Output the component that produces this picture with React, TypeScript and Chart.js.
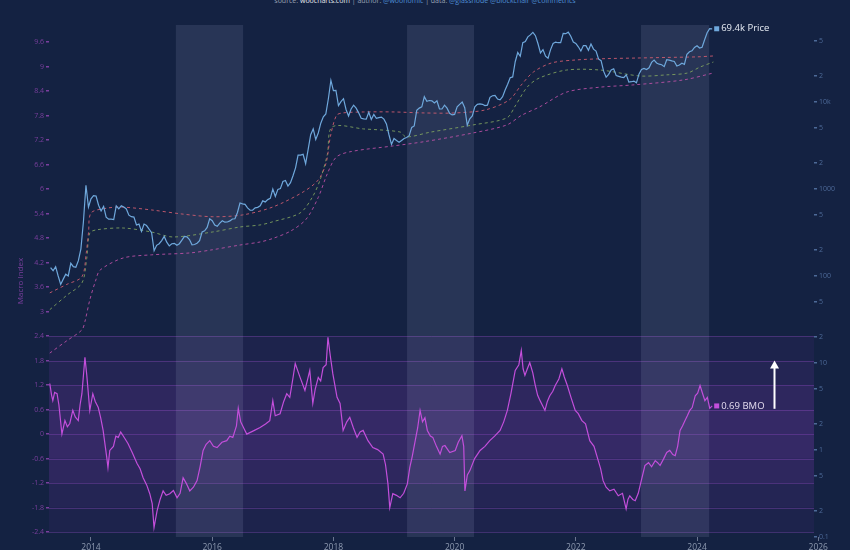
import { useEffect, useRef } from "react";
import { Chart, registerables } from "chart.js";

Chart.register(...registerables);

// ---------- DATA ----------
// Price samples: twice a month starting 1 May 2013
const PRICE_START_YEAR = 2013 + 4 / 12;
const PRICE_STEP_YEARS = 1 / 24;
const priceUsd = [
  // 2013 May..Dec
  125, 115, 128, 100, 80, 92, 105, 100, 140, 128, 126, 150, 205, 420, 1100, 620,
  // 2014
  770, 840, 830, 650, 560, 630, 475, 450, 450, 445, 640, 590, 640, 620, 590, 500, 480, 475, 385, 395, 325, 395, 380, 345,
  // 2015
  315, 195, 225, 235, 255, 285, 245, 222, 235, 237, 225, 235, 258, 285, 282, 262, 228, 230, 238, 255, 320, 330, 362, 455,
  // 2016
  432, 385, 372, 405, 432, 415, 417, 430, 452, 455, 537, 690, 675, 665, 607, 570, 572, 607, 615, 640, 730, 710, 755, 780,
  // 2017
  1000, 820, 990, 1010, 1220, 1250, 1080, 1180, 1420, 1750, 2450, 2450, 2500, 1950, 2850, 4200, 4900, 3700, 4400, 5700, 6750, 7300, 10900, 17700,
  // 2018
  13500, 13600, 9100, 10100, 10900, 8200, 6900, 8300, 9200, 8500, 7500, 6500, 6400, 6350, 7600, 6300, 7200, 6500, 6600, 6700, 6350, 5600, 4200, 3250,
  // 2019
  3800, 3600, 3450, 3600, 3800, 3900, 4100, 5100, 5300, 8000, 8500, 8800, 11500, 10200, 10400, 10300, 9750, 10300, 8300, 8300, 9200, 8500, 7400, 7100,
  // 2020
  7200, 8800, 9400, 10000, 8600, 5400, 6400, 6900, 8800, 9400, 9500, 9400, 9100, 9200, 11300, 11800, 11900, 10800, 10600, 11500, 13700, 16000, 19000, 19400,
  // 2021
  29000, 37000, 33500, 48000, 49500, 56000, 59000, 63000, 57800, 47000, 36700, 40000, 33600, 31800, 40000, 47000, 48800, 48000, 48000, 61500, 61000, 63500, 57000, 48900,
  // 2022
  47000, 43100, 38500, 44500, 44400, 39300, 46300, 40500, 38500, 31300, 29800, 22600, 19300, 20800, 23300, 24100, 20100, 19700, 19300, 19100, 20500, 16900, 17100, 17400,
  // 2023
  16600, 20900, 23700, 24300, 23600, 24700, 28500, 30300, 28100, 27200, 26800, 25500, 30600, 30300, 29700, 29200, 25900, 26600, 27900, 27100, 35400, 37800, 38700, 42300,
  // 2024 Jan..Apr
  44200, 41700, 42600, 52000, 62400, 69500, 69400,
];

const bmoYears = [
  2013.32, 2013.35, 2013.37, 2013.4, 2013.44, 2013.47, 2013.52, 2013.57, 2013.61, 2013.65, 2013.7, 2013.74, 2013.79, 2013.82, 2013.85, 2013.9, 2013.93, 2013.98,
  2014.03, 2014.07, 2014.12, 2014.16, 2014.2, 2014.26, 2014.28, 2014.31, 2014.37, 2014.41, 2014.45, 2014.49, 2014.53, 2014.61, 2014.68, 2014.76, 2014.81, 2014.86, 2014.92, 2014.97,
  2015.01, 2015.04, 2015.09, 2015.14, 2015.19, 2015.24, 2015.3, 2015.36, 2015.42, 2015.47, 2015.52, 2015.57, 2015.63, 2015.69, 2015.75, 2015.8, 2015.85, 2015.9, 2015.96,
  2016.02, 2016.08, 2016.16, 2016.24, 2016.29, 2016.34, 2016.4, 2016.43, 2016.47, 2016.52, 2016.57, 2016.68, 2016.79, 2016.88, 2016.95,
  2017.0, 2017.04, 2017.12, 2017.18, 2017.23, 2017.28, 2017.33, 2017.37, 2017.45, 2017.53, 2017.61, 2017.66, 2017.7, 2017.75, 2017.79, 2017.83, 2017.88, 2017.91, 2017.95, 2017.99,
  2018.06, 2018.11, 2018.16, 2018.22, 2018.27, 2018.33, 2018.39, 2018.44, 2018.49, 2018.57, 2018.65, 2018.73, 2018.82, 2018.86, 2018.9, 2018.93, 2018.98,
  2019.04, 2019.1, 2019.16, 2019.22, 2019.26, 2019.3, 2019.35, 2019.39, 2019.43, 2019.47, 2019.51, 2019.55, 2019.6, 2019.64, 2019.7, 2019.76, 2019.8, 2019.84, 2019.92,
  2020.01, 2020.06, 2020.12, 2020.15, 2020.17, 2020.21, 2020.25, 2020.33, 2020.42, 2020.5, 2020.58, 2020.66, 2020.75, 2020.81, 2020.87, 2020.93,
  2021.0, 2021.06, 2021.1, 2021.13, 2021.16, 2021.2, 2021.24, 2021.29, 2021.33, 2021.37, 2021.41, 2021.45, 2021.49, 2021.53, 2021.57, 2021.62, 2021.66, 2021.72, 2021.77, 2021.81, 2021.86, 2021.92, 2021.99,
  2022.04, 2022.1, 2022.16, 2022.23, 2022.3, 2022.37, 2022.41, 2022.45, 2022.5, 2022.56, 2022.63, 2022.7, 2022.77, 2022.83, 2022.86, 2022.89, 2022.94, 2022.98,
  2023.03, 2023.08, 2023.14, 2023.2, 2023.25, 2023.31, 2023.35, 2023.39, 2023.45, 2023.5, 2023.55, 2023.6, 2023.64, 2023.68, 2023.72, 2023.76, 2023.8, 2023.84, 2023.88, 2023.92, 2023.97,
  2024.01, 2024.05, 2024.09, 2024.13, 2024.17, 2024.21, 2024.25,
];
const bmoValues = [
  1.24, 0.95, 0.82, 1.02, 0.99, 0.72, 0.0, 0.33, 0.18, 0.26, 0.58, 0.42, 0.33, 0.72, 0.99, 1.88, 1.45, 0.58,
  0.99, 0.8, 0.65, 0.4, 0.09, -0.57, -0.82, -0.4, -0.3, -0.05, -0.08, 0.05, -0.04, -0.23, -0.45, -0.72, -0.85, -1.07, -1.25, -1.46,
  -1.7, -2.29, -1.88, -1.6, -1.39, -1.5, -1.46, -1.38, -1.56, -1.45, -1.07, -1.2, -1.39, -1.3, -1.14, -0.8, -0.4, -0.25, -0.16,
  -0.3, -0.33, -0.2, -0.16, -0.05, -0.08, 0.2, 0.63, 0.3, 0.15, 0.0, 0.08, 0.16, 0.25, 0.33,
  0.82, 0.45, 0.5, 0.8, 0.99, 0.9, 1.35, 1.73, 1.39, 1.07, 1.56, 0.75, 1.1, 1.39, 1.3, 1.63, 1.7, 2.37, 1.9, 1.48,
  0.9, 0.75, 0.09, 0.3, 0.41, 0.15, -0.08, 0.05, 0.09, -0.16, -0.33, -0.38, -0.49, -0.75, -1.22, -1.8, -1.46,
  -1.5, -1.56, -1.45, -1.22, -0.82, -0.55, -0.16, 0.15, 0.58, 0.3, 0.4, 0.09, -0.05, -0.08, -0.3, -0.49, -0.3, -0.28, -0.45,
  -0.4, -0.2, -0.04, -0.3, -1.39, -1.0, -0.9, -0.6, -0.4, -0.3, -0.16, -0.05, 0.09, 0.3, 0.58, 1.0,
  1.56, 1.7, 2.05, 1.6, 1.44, 1.6, 1.75, 1.5, 1.2, 0.95, 0.82, 0.7, 0.58, 0.8, 0.94, 1.05, 1.19, 1.35, 1.6, 1.4, 1.19, 0.9, 0.58,
  0.5, 0.33, 0.25, -0.16, -0.3, -0.65, -0.85, -1.14, -1.3, -1.39, -1.35, -1.51, -1.45, -1.83, -1.6, -1.51, -1.6, -1.63,
  -1.45, -1.14, -0.77, -0.7, -0.8, -0.65, -0.7, -0.77, -0.6, -0.45, -0.4, -0.5, -0.53, -0.3, 0.09, 0.2, 0.33, 0.45, 0.58, 0.65, 0.94,
  1.0, 1.19, 1.0, 0.82, 0.9, 0.63, 0.69,
];

const upperYears = [2013.32, 2013.6, 2013.85, 2013.92, 2013.96, 2014.0, 2014.25, 2014.5, 2015.0, 2015.5, 2016.0, 2016.5, 2017.0, 2017.5, 2017.75, 2017.88, 2017.95, 2018.05, 2018.15, 2018.5, 2019.0, 2019.5, 2020.0, 2020.5, 2020.9, 2021.1, 2021.3, 2021.6, 2022.0, 2022.5, 2023.0, 2023.5, 2024.0, 2024.27];
const upperUsd = [64, 80, 98, 180, 320, 530, 600, 620, 574, 516, 480, 503, 621, 924, 1270, 2000, 4000, 7000, 7480, 7680, 7680, 7480, 7480, 8090, 10540, 15680, 22100, 28100, 30400, 31500, 32000, 32500, 33000, 33800];

const midYears = [2013.32, 2013.6, 2013.85, 2013.93, 2013.98, 2014.1, 2014.53, 2015.0, 2015.35, 2016.0, 2016.46, 2016.79, 2017.0, 2017.45, 2017.65, 2017.78, 2017.9, 2017.98, 2018.5, 2019.1, 2019.2, 2019.6, 2020.3, 2020.86, 2021.0, 2021.2, 2021.4, 2021.85, 2022.4, 2023.06, 2023.5, 2023.84, 2024.05, 2024.27];
const midUsd = [41, 60, 83, 160, 312, 340, 356, 320, 281, 320, 366, 386, 420, 530, 800, 1270, 2500, 5160, 4900, 4520, 3960, 4500, 5440, 6550, 9000, 14900, 18900, 23300, 23300, 19900, 20500, 21500, 25200, 28800];

const lowerYears = [2013.32, 2013.6, 2013.85, 2013.9, 2013.98, 2014.08, 2014.15, 2014.53, 2015.0, 2015.63, 2016.0, 2016.46, 2016.79, 2017.0, 2017.3, 2017.55, 2017.75, 2017.9, 2018.05, 2018.3, 2018.98, 2019.5, 2020.3, 2020.86, 2021.1, 2021.4, 2021.85, 2022.4, 2022.94, 2023.77, 2024.27];
const lowerUsd = [13, 18, 24, 30, 53, 90, 117, 161, 175, 184, 200, 227, 246, 270, 330, 450, 800, 1500, 2335, 2700, 3120, 3500, 4400, 5440, 7000, 8770, 13000, 14800, 15700, 17900, 21550];

const macroTicks = [-2.4, -1.8, -1.2, -0.6, 0, 0.6, 1.2, 1.8, 2.4, 3, 3.6, 4.2, 4.8, 5.4, 6, 6.6, 7.2, 7.8, 8.4, 9, 9.6];
const priceTicks = [0.1, 0.2, 0.5, 1, 2, 5, 10, 20, 50, 100, 200, 500, 1000, 2000, 5000, 10000, 20000, 50000];
const yearTicks = [2014, 2016, 2018, 2020, 2022, 2024, 2026];
const bandEdges = [2.4, 1.8, 1.2, 0.6, 0, -0.6, -1.2, -1.8, -2.4];
const bandAlphas = [0.07, 0.13, 0.2, 0.26, 0.26, 0.2, 0.13, 0.07];
const shadedStarts = [2015.4, 2019.215, 2023.076];
const shadedEnds = [2016.51, 2020.32, 2024.2];
const arrowYear = 2025.27;
const arrowFrom = 0.62;
const arrowTo = 1.8;

// ---------- STYLE ----------
const BG = "#142242";
const PRICE_COLOR = "#6fa8dc";
const BMO_COLOR = "#c34fdb";
const MACRO_COLOR = "#7b3f9e";
const RIGHT_COLOR = "#4d6a98";
const FONT = "'Open Sans', 'Noto Sans', sans-serif";

const decorPlugin = {
  id: "decor",
  beforeDatasetsDraw(chart: any) {
    const { ctx, chartArea, scales } = chart;
    const { left, right, top, bottom } = chartArea;
    const yL = scales.yL;
    const x = scales.x;
    ctx.save();
    for (let i = 0; i < bandAlphas.length; i++) {
      const y1 = yL.getPixelForValue(bandEdges[i]);
      const y2 = yL.getPixelForValue(bandEdges[i + 1]);
      ctx.fillStyle = `rgba(150, 60, 210, ${bandAlphas[i]})`;
      ctx.fillRect(left, y1, right - left, y2 - y1);
    }
    ctx.strokeStyle = "rgba(165, 85, 215, 0.3)";
    ctx.lineWidth = 1;
    for (const e of bandEdges) {
      const y = Math.round(yL.getPixelForValue(e)) + 0.5;
      ctx.beginPath();
      ctx.moveTo(left, y);
      ctx.lineTo(right, y);
      ctx.stroke();
    }
    ctx.fillStyle = "rgba(190, 200, 228, 0.12)";
    for (let i = 0; i < shadedStarts.length; i++) {
      const x1 = x.getPixelForValue(shadedStarts[i]);
      const x2 = x.getPixelForValue(shadedEnds[i]);
      ctx.fillRect(x1, top, x2 - x1, bottom - top);
    }
    ctx.restore();
  },
  afterDatasetsDraw(chart: any) {
    const { ctx, scales } = chart;
    const { x, yL, yR } = scales;
    ctx.save();
    // arrow
    const ax = Math.round(x.getPixelForValue(arrowYear)) + 0.5;
    const yb = yL.getPixelForValue(arrowFrom);
    const yt = yL.getPixelForValue(arrowTo);
    ctx.strokeStyle = "#ffffff";
    ctx.fillStyle = "#ffffff";
    ctx.lineWidth = 2;
    ctx.beginPath();
    ctx.moveTo(ax, yb);
    ctx.lineTo(ax, yt + 6);
    ctx.stroke();
    ctx.beginPath();
    ctx.moveTo(ax, yt);
    ctx.lineTo(ax - 4.5, yt + 8);
    ctx.lineTo(ax + 4.5, yt + 8);
    ctx.closePath();
    ctx.fill();

    // end labels
    const lastIdx = priceUsd.length - 1;
    const lastYear = PRICE_START_YEAR + lastIdx * PRICE_STEP_YEARS;
    const lastPrice = priceUsd[lastIdx];
    const px = x.getPixelForValue(lastYear);
    const py = yR.getPixelForValue(lastPrice);
    ctx.font = `9.5px ${FONT}`;
    ctx.textBaseline = "middle";
    ctx.textAlign = "left";
    ctx.fillStyle = PRICE_COLOR;
    ctx.fillRect(px + 2, py - 2.5, 5, 5);
    ctx.fillStyle = "#e8edf5";
    ctx.fillText(`${(lastPrice / 1000).toFixed(1)}k Price`, px + 9, py);

    const bi = bmoValues.length - 1;
    const bx = x.getPixelForValue(bmoYears[bi]);
    const by = yL.getPixelForValue(bmoValues[bi]);
    ctx.fillStyle = BMO_COLOR;
    ctx.fillRect(bx + 2, by - 2.5, 5, 5);
    ctx.fillStyle = "#e4dcef";
    ctx.fillText(`${bmoValues[bi].toFixed(2)} BMO`, bx + 9, by);
    ctx.restore();
  },
};

function fmtPrice(v: number): string {
  const lg = Math.log10(v);
  if (Math.abs(lg - Math.round(lg)) < 1e-6) {
    if (v >= 10000) return `${Math.round(v / 1000)}k`;
    return String(Number(v.toPrecision(1)));
  }
  return String(Number((v / Math.pow(10, Math.floor(lg + 1e-9))).toFixed(0)));
}

export default function App() {
  const ref = useRef<HTMLCanvasElement | null>(null);
  useEffect(() => {
    if (!ref.current) return;
    const priceData = priceUsd.map((p, i) => ({ x: PRICE_START_YEAR + i * PRICE_STEP_YEARS, y: p }));
    const bmoData = bmoValues.map((v, i) => ({ x: bmoYears[i], y: v }));
    const upperData = upperUsd.map((v, i) => ({ x: upperYears[i], y: v }));
    const midData = midUsd.map((v, i) => ({ x: midYears[i], y: v }));
    const lowerData = lowerUsd.map((v, i) => ({ x: lowerYears[i], y: v }));
    const dashed = (data: any[], color: string, order: number) => ({
      data,
      yAxisID: "yR",
      borderColor: color,
      borderWidth: 1,
      borderDash: [3, 3],
      pointRadius: 0,
      tension: 0.3,
      order,
    });
    const chart = new Chart(ref.current, {
      type: "line",
      data: {
        datasets: [
          { data: priceData, yAxisID: "yR", borderColor: PRICE_COLOR, borderWidth: 1.2, pointRadius: 0, tension: 0, order: 0 },
          dashed(upperData, "rgba(205, 92, 112, 0.9)", 2),
          dashed(midData, "rgba(125, 160, 95, 0.9)", 3),
          dashed(lowerData, "rgba(185, 80, 165, 0.9)", 4),
          { data: bmoData, yAxisID: "yL", borderColor: BMO_COLOR, borderWidth: 1.2, pointRadius: 0, tension: 0, order: 1 },
        ] as any,
      },
      options: {
        animation: false,
        responsive: false,
        maintainAspectRatio: false,
        parsing: false as any,
        layout: { padding: { top: 25, left: 0, right: 0, bottom: 0 } },
        plugins: { legend: { display: false }, tooltip: { enabled: false } },
        scales: {
          x: {
            type: "linear",
            min: 2013.307,
            max: 2025.93,
            afterBuildTicks: (s: any) => {
              s.ticks = yearTicks.map((v) => ({ value: v }));
            },
            afterFit: (s: any) => {
              s.height = 13;
            },
            ticks: { color: "#8e9ab0", font: { size: 8.5, family: FONT }, padding: 1, maxRotation: 0, autoSkip: false, callback: (v: any) => String(v) },
            grid: { drawOnChartArea: false, drawTicks: true, tickLength: 4, color: "#6b7690" },
            border: { display: false },
          },
          yL: {
            type: "linear",
            position: "left",
            min: -2.52,
            max: 10.02,
            afterBuildTicks: (s: any) => {
              s.ticks = macroTicks.map((v) => ({ value: v }));
            },
            afterFit: (s: any) => {
              s.width = 49;
            },
            ticks: { color: MACRO_COLOR, font: { size: 7, family: FONT }, padding: 2, callback: (v: any) => String(Number(Number(v).toFixed(1))) },
            grid: { drawOnChartArea: false, tickLength: 3, lineWidth: 1.5, color: MACRO_COLOR },
            border: { display: false },
            title: { display: true, text: "Macro Index", color: MACRO_COLOR, font: { size: 8, family: FONT }, padding: { top: 16, bottom: 0 } },
          },
          yR: {
            type: "logarithmic",
            position: "right",
            min: 0.1,
            max: 76700,
            afterBuildTicks: (s: any) => {
              s.ticks = priceTicks.map((v) => ({ value: v }));
            },
            afterFit: (s: any) => {
              s.width = 36;
            },
            ticks: { color: RIGHT_COLOR, font: { size: 7, family: FONT }, padding: 2, autoSkip: false, callback: (v: any) => fmtPrice(Number(v)) },
            grid: { drawOnChartArea: false, tickLength: 3, lineWidth: 1.5, color: RIGHT_COLOR },
            border: { display: false },
          },
        },
      } as any,
      plugins: [decorPlugin],
    });
    return () => chart.destroy();
  }, []);

  return (
    <div style={{ position: "fixed", left: 0, top: 0, width: 850, height: 550, background: BG, overflow: "hidden" }}>
      <div
        style={{
          position: "absolute",
          top: -4,
          left: 0,
          width: 850,
          textAlign: "center",
          fontFamily: FONT,
          fontSize: 7,
          color: "#9aa3b5",
          whiteSpace: "nowrap",
        }}
      >
        source: <span style={{ color: "#e6e9ef" }}>woocharts.com</span> | author: <span style={{ color: "#4f8fd6" }}>@woonomic</span> | data:{" "}
        <span style={{ color: "#4f8fd6" }}>@glassnode @blockchair @coinmetrics</span>
      </div>
      <canvas ref={ref} width={850} height={550} style={{ position: "absolute", left: 0, top: 0, width: 850, height: 550 }} />
    </div>
  );
}
